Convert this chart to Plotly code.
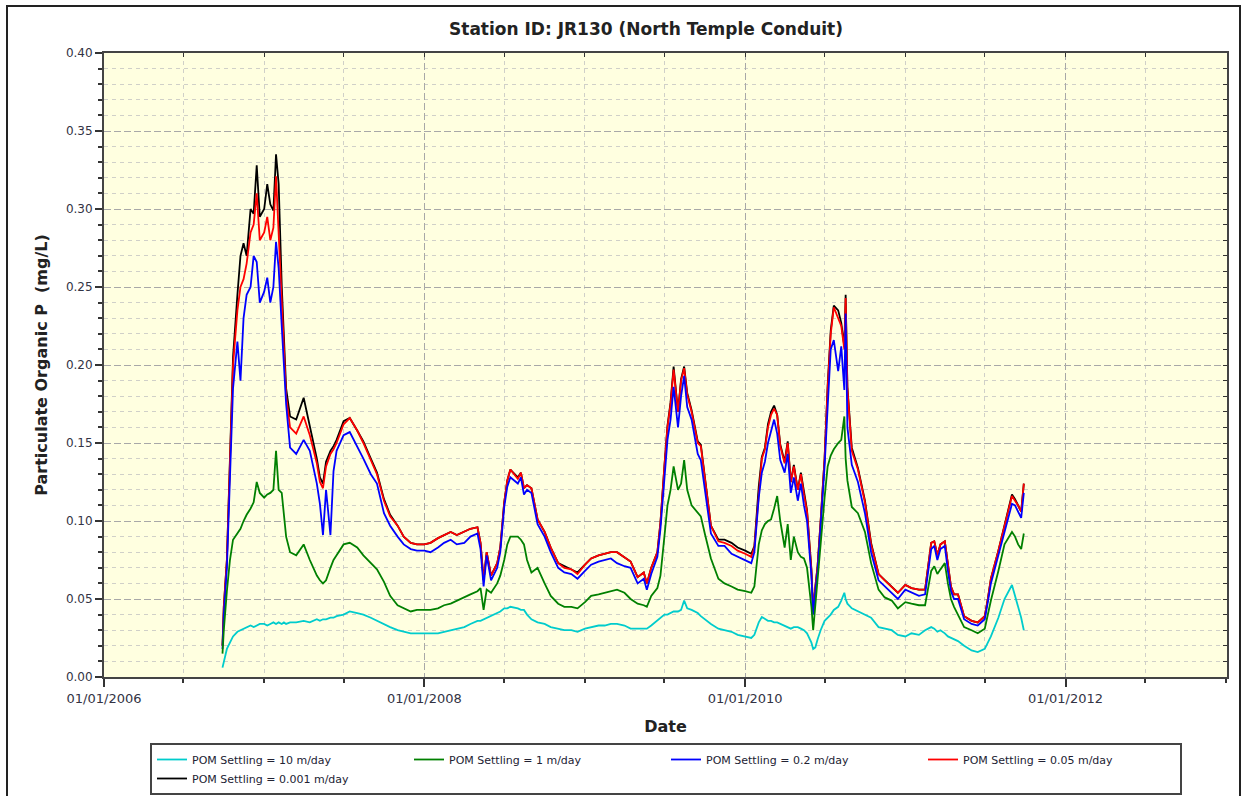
import plotly.graph_objects as go

dates = [
    "2006-09-28", "2006-10-01", "2006-10-08", "2006-10-15", "2006-10-22", "2006-11-01", "2006-11-08", "2006-11-15",
    "2006-11-22", "2006-12-01", "2006-12-08", "2006-12-15", "2006-12-22", "2007-01-01", "2007-01-08", "2007-01-15",
    "2007-01-22", "2007-01-28", "2007-02-03", "2007-02-10", "2007-02-15", "2007-02-20", "2007-03-01", "2007-03-15",
    "2007-04-01", "2007-04-15", "2007-05-01", "2007-05-08", "2007-05-15", "2007-05-22", "2007-06-01", "2007-06-08",
    "2007-06-15", "2007-07-01", "2007-07-15", "2007-08-01", "2007-08-15", "2007-09-01", "2007-09-15", "2007-10-01",
    "2007-10-15", "2007-11-01", "2007-11-15", "2007-12-01", "2007-12-15", "2008-01-01", "2008-01-15", "2008-02-01",
    "2008-02-15", "2008-03-01", "2008-03-15", "2008-04-01", "2008-04-15", "2008-05-01", "2008-05-08", "2008-05-15",
    "2008-05-22", "2008-06-01", "2008-06-15", "2008-06-22", "2008-07-01", "2008-07-08", "2008-07-15", "2008-08-01",
    "2008-08-08", "2008-08-15", "2008-08-22", "2008-09-01", "2008-09-15", "2008-10-01", "2008-10-15", "2008-11-01",
    "2008-11-15", "2008-12-01", "2008-12-15", "2009-01-01", "2009-01-15", "2009-02-01", "2009-02-15", "2009-03-01",
    "2009-03-15", "2009-04-01", "2009-04-15", "2009-05-01", "2009-05-15", "2009-05-22", "2009-06-01", "2009-06-15",
    "2009-06-22", "2009-07-01", "2009-07-08", "2009-07-15", "2009-07-22", "2009-08-01", "2009-08-08", "2009-08-15",
    "2009-08-22", "2009-09-01", "2009-09-15", "2009-09-22", "2009-10-01", "2009-10-15", "2009-11-01", "2009-11-15",
    "2009-12-01", "2009-12-15", "2010-01-01", "2010-01-15", "2010-01-22", "2010-02-01", "2010-02-08", "2010-02-15",
    "2010-02-22", "2010-03-01", "2010-03-08", "2010-03-15", "2010-03-22", "2010-04-01", "2010-04-08", "2010-04-15",
    "2010-04-22", "2010-05-01", "2010-05-08", "2010-05-15", "2010-05-22", "2010-06-01", "2010-06-05", "2010-06-10",
    "2010-06-15", "2010-06-22", "2010-07-01", "2010-07-08", "2010-07-15", "2010-07-22", "2010-08-01", "2010-08-08",
    "2010-08-15", "2010-08-18", "2010-08-22", "2010-09-01", "2010-09-15", "2010-10-01", "2010-10-15", "2010-11-01",
    "2010-11-15", "2010-12-01", "2010-12-15", "2011-01-01", "2011-01-15", "2011-02-01", "2011-02-15", "2011-03-01",
    "2011-03-08", "2011-03-15", "2011-03-22", "2011-04-01", "2011-04-08", "2011-04-15", "2011-04-22", "2011-05-01",
    "2011-05-15", "2011-06-01", "2011-06-15", "2011-07-01", "2011-07-08", "2011-07-15", "2011-08-01", "2011-08-15",
    "2011-09-01", "2011-09-08", "2011-09-15", "2011-09-22", "2011-09-28",
]

pom_10 = [
    0.006, 0.010, 0.018, 0.022, 0.026, 0.029, 0.030, 0.031, 0.032, 0.033, 0.032, 0.033, 0.034, 0.034, 0.033, 0.034,
    0.035, 0.034, 0.035, 0.034, 0.035, 0.034, 0.035, 0.035, 0.036, 0.035, 0.037, 0.036, 0.037, 0.037, 0.038, 0.038,
    0.039, 0.040, 0.042, 0.041, 0.040, 0.038, 0.036, 0.034, 0.032, 0.030, 0.029, 0.028, 0.028, 0.028, 0.028, 0.028,
    0.029, 0.030, 0.031, 0.032, 0.034, 0.036, 0.036, 0.037, 0.038, 0.039, 0.041, 0.042, 0.044, 0.044, 0.045, 0.044,
    0.043, 0.043, 0.040, 0.037, 0.035, 0.034, 0.032, 0.031, 0.030, 0.030, 0.029, 0.031, 0.032, 0.033, 0.033, 0.034,
    0.034, 0.033, 0.031, 0.031, 0.031, 0.031, 0.033, 0.036, 0.038, 0.040, 0.040, 0.041, 0.042, 0.042, 0.043, 0.049,
    0.044, 0.043, 0.041, 0.039, 0.037, 0.034, 0.031, 0.030, 0.029, 0.027, 0.026, 0.025, 0.027, 0.035, 0.0385, 0.037,
    0.036, 0.036, 0.035, 0.035, 0.034, 0.033, 0.032, 0.031, 0.032, 0.032, 0.031, 0.030, 0.028, 0.022, 0.018, 0.019,
    0.024, 0.030, 0.036, 0.038, 0.040, 0.043, 0.045, 0.049, 0.054, 0.050, 0.047, 0.044, 0.042, 0.040, 0.038, 0.032,
    0.031, 0.030, 0.027, 0.026, 0.028, 0.027, 0.030, 0.032, 0.031, 0.029, 0.030, 0.028, 0.026, 0.025, 0.024, 0.023,
    0.020, 0.017, 0.016, 0.018, 0.022, 0.026, 0.038, 0.050, 0.059, 0.052, 0.045, 0.038, 0.030,
]

pom_1 = [
    0.015, 0.030, 0.055, 0.075, 0.088, 0.092, 0.095, 0.100, 0.104, 0.108, 0.112, 0.125, 0.118, 0.115, 0.117, 0.118,
    0.120, 0.145, 0.120, 0.118, 0.105, 0.090, 0.080, 0.078, 0.085, 0.075, 0.065, 0.062, 0.060, 0.062, 0.070, 0.075,
    0.078, 0.085, 0.086, 0.083, 0.078, 0.073, 0.069, 0.061, 0.052, 0.046, 0.044, 0.042, 0.043, 0.043, 0.043, 0.044,
    0.046, 0.047, 0.049, 0.051, 0.053, 0.055, 0.057, 0.043, 0.056, 0.054, 0.060, 0.065, 0.075, 0.085, 0.090, 0.090,
    0.088, 0.085, 0.075, 0.067, 0.070, 0.060, 0.052, 0.047, 0.045, 0.045, 0.044, 0.048, 0.052, 0.053, 0.054, 0.055,
    0.056, 0.054, 0.050, 0.047, 0.046, 0.045, 0.052, 0.057, 0.065, 0.090, 0.110, 0.120, 0.135, 0.120, 0.124, 0.139,
    0.120, 0.110, 0.105, 0.103, 0.092, 0.076, 0.063, 0.060, 0.058, 0.056, 0.055, 0.054, 0.058, 0.085, 0.094, 0.098,
    0.100, 0.101, 0.108, 0.116, 0.100, 0.083, 0.098, 0.075, 0.090, 0.080, 0.077, 0.076, 0.070, 0.045, 0.030, 0.045,
    0.062, 0.085, 0.115, 0.135, 0.142, 0.146, 0.150, 0.152, 0.167, 0.140, 0.126, 0.109, 0.105, 0.093, 0.073, 0.056,
    0.051, 0.049, 0.044, 0.048, 0.047, 0.046, 0.046, 0.068, 0.071, 0.066, 0.069, 0.073, 0.060, 0.050, 0.045, 0.040,
    0.032, 0.030, 0.028, 0.031, 0.040, 0.049, 0.068, 0.085, 0.093, 0.090, 0.085, 0.082, 0.092,
]

pom_02 = [
    0.018, 0.040, 0.070, 0.130, 0.185, 0.215, 0.190, 0.230, 0.245, 0.250, 0.270, 0.266, 0.240, 0.247, 0.256, 0.240,
    0.250, 0.279, 0.262, 0.225, 0.200, 0.175, 0.147, 0.143, 0.152, 0.145, 0.124, 0.111, 0.091, 0.120, 0.091, 0.132,
    0.145, 0.155, 0.157, 0.148, 0.140, 0.130, 0.124, 0.105, 0.097, 0.090, 0.085, 0.082, 0.081, 0.081, 0.080, 0.083,
    0.086, 0.088, 0.085, 0.086, 0.090, 0.092, 0.082, 0.058, 0.078, 0.062, 0.070, 0.080, 0.109, 0.122, 0.128, 0.124,
    0.128, 0.117, 0.120, 0.118, 0.098, 0.090, 0.080, 0.070, 0.067, 0.066, 0.063, 0.068, 0.072, 0.074, 0.075, 0.076,
    0.073, 0.071, 0.070, 0.060, 0.063, 0.056, 0.066, 0.077, 0.095, 0.130, 0.152, 0.165, 0.186, 0.160, 0.180, 0.193,
    0.173, 0.165, 0.143, 0.139, 0.120, 0.092, 0.084, 0.084, 0.079, 0.077, 0.075, 0.073, 0.080, 0.115, 0.131, 0.138,
    0.150, 0.158, 0.165, 0.156, 0.139, 0.131, 0.143, 0.118, 0.128, 0.113, 0.124, 0.110, 0.100, 0.065, 0.040, 0.055,
    0.068, 0.097, 0.135, 0.173, 0.210, 0.216, 0.196, 0.212, 0.184, 0.233, 0.160, 0.136, 0.125, 0.105, 0.080, 0.062,
    0.058, 0.054, 0.050, 0.056, 0.054, 0.052, 0.053, 0.082, 0.084, 0.075, 0.082, 0.084, 0.068, 0.055, 0.050, 0.050,
    0.037, 0.034, 0.033, 0.037, 0.048, 0.060, 0.078, 0.093, 0.111, 0.110, 0.106, 0.102, 0.118,
]

pom_005 = [
    0.020, 0.045, 0.075, 0.140, 0.200, 0.235, 0.250, 0.255, 0.265, 0.285, 0.290, 0.310, 0.280, 0.285, 0.295, 0.280,
    0.288, 0.321, 0.284, 0.240, 0.210, 0.180, 0.160, 0.156, 0.167, 0.155, 0.137, 0.125, 0.121, 0.135, 0.143, 0.146,
    0.150, 0.162, 0.166, 0.158, 0.150, 0.139, 0.130, 0.113, 0.103, 0.097, 0.090, 0.086, 0.085, 0.085, 0.086, 0.089,
    0.091, 0.093, 0.091, 0.093, 0.095, 0.096, 0.086, 0.062, 0.080, 0.065, 0.073, 0.083, 0.112, 0.126, 0.133, 0.127,
    0.131, 0.121, 0.123, 0.121, 0.101, 0.093, 0.083, 0.073, 0.070, 0.069, 0.066, 0.072, 0.076, 0.078, 0.079, 0.080,
    0.080, 0.077, 0.074, 0.064, 0.067, 0.060, 0.070, 0.080, 0.099, 0.135, 0.160, 0.175, 0.197, 0.170, 0.190, 0.198,
    0.181, 0.170, 0.150, 0.148, 0.128, 0.097, 0.087, 0.086, 0.084, 0.081, 0.079, 0.077, 0.083, 0.120, 0.140, 0.146,
    0.160, 0.168, 0.172, 0.168, 0.148, 0.137, 0.150, 0.125, 0.135, 0.120, 0.130, 0.117, 0.106, 0.068, 0.042, 0.058,
    0.071, 0.100, 0.140, 0.185, 0.220, 0.237, 0.230, 0.225, 0.210, 0.243, 0.185, 0.145, 0.133, 0.112, 0.085, 0.066,
    0.062, 0.058, 0.054, 0.059, 0.057, 0.056, 0.056, 0.086, 0.087, 0.078, 0.085, 0.087, 0.071, 0.058, 0.053, 0.053,
    0.039, 0.036, 0.035, 0.039, 0.050, 0.063, 0.081, 0.097, 0.116, 0.113, 0.110, 0.106, 0.124,
]

pom_0001 = [
    0.020, 0.045, 0.075, 0.140, 0.205, 0.245, 0.270, 0.278, 0.270, 0.300, 0.297, 0.328, 0.295, 0.300, 0.316, 0.303,
    0.299, 0.335, 0.316, 0.251, 0.215, 0.185, 0.167, 0.165, 0.179, 0.160, 0.140, 0.128, 0.124, 0.138, 0.145, 0.148,
    0.152, 0.164, 0.166, 0.158, 0.151, 0.140, 0.131, 0.114, 0.104, 0.097, 0.090, 0.086, 0.085, 0.085, 0.086, 0.089,
    0.091, 0.093, 0.091, 0.093, 0.095, 0.096, 0.086, 0.062, 0.080, 0.065, 0.073, 0.083, 0.112, 0.126, 0.133, 0.128,
    0.131, 0.121, 0.123, 0.121, 0.101, 0.093, 0.083, 0.073, 0.071, 0.069, 0.067, 0.072, 0.076, 0.078, 0.079, 0.080,
    0.080, 0.077, 0.074, 0.064, 0.067, 0.060, 0.070, 0.080, 0.099, 0.135, 0.161, 0.176, 0.199, 0.170, 0.191, 0.199,
    0.182, 0.171, 0.151, 0.149, 0.129, 0.097, 0.088, 0.088, 0.086, 0.083, 0.081, 0.079, 0.084, 0.122, 0.141, 0.147,
    0.162, 0.170, 0.174, 0.168, 0.149, 0.138, 0.151, 0.125, 0.136, 0.120, 0.131, 0.118, 0.107, 0.069, 0.042, 0.058,
    0.071, 0.100, 0.140, 0.187, 0.222, 0.238, 0.235, 0.227, 0.212, 0.245, 0.186, 0.147, 0.134, 0.113, 0.086, 0.066,
    0.062, 0.058, 0.054, 0.059, 0.057, 0.056, 0.056, 0.086, 0.087, 0.078, 0.085, 0.087, 0.071, 0.058, 0.053, 0.053,
    0.039, 0.036, 0.035, 0.039, 0.050, 0.063, 0.081, 0.097, 0.117, 0.114, 0.110, 0.106, 0.124,
]

series_names = [
    "POM Settling = 10 m/day",
    "POM Settling = 1 m/day",
    "POM Settling = 0.2 m/day",
    "POM Settling = 0.05 m/day",
    "POM Settling = 0.001 m/day",
]
series_values = [pom_10, pom_1, pom_02, pom_005, pom_0001]
series_colors = ["#00CCCC", "#008000", "#0000FF", "#FF0000", "#000000"]

fig = go.Figure()
# draw black first so blue lies on top; legend order via legendrank
for idx in [4, 3, 2, 1, 0]:
    fig.add_trace(go.Scatter(
        x=dates, y=series_values[idx], mode="lines", name=series_names[idx],
        line=dict(color=series_colors[idx], width=1.8),
        legendrank=idx + 1,
    ))
# empty helper trace for the mirrored (inside-tick) axes
fig.add_trace(go.Scatter(x=[], y=[], xaxis="x2", yaxis="y2", showlegend=False, hoverinfo="skip"))

W, H = 1247, 796
L, R, T, B = 104, 1227, 53, 677
pw, ph = R - L, B - T
def px(x): return (x - L) / pw
def py(y): return (B - y) / ph

xrange = ["2006-01-01", "2013-01-03"]
label_color = "#333344"
title_font = dict(family="DejaVu Sans", size=16, color="#222222", weight="bold")

fig.update_layout(
    width=W, height=H,
    margin=dict(l=L, r=W - R, t=T, b=H - B, autoexpand=False),
    paper_bgcolor="white", plot_bgcolor="#FFFFE0",
    title=dict(text="Station ID: JR130 (North Temple Conduit)", x=px(646), xref="paper", xanchor="center",
               y=1 - 29 / H, yref="container", yanchor="middle",
               font=dict(family="DejaVu Sans", size=17, color="#222222", weight="bold")),
    xaxis=dict(
        type="date", range=xrange, tick0="2006-01-01", dtick="M24", tickformat="%m/%d/%Y",
        ticks="outside", ticklen=8, tickwidth=1.5, tickcolor="#333333",
        showline=True, linecolor="#444444", linewidth=2, mirror=True,
        showgrid=True, gridcolor="#A8A8A8", griddash="7px,3px", gridwidth=1,
        minor=dict(dtick="M6", tick0="2006-01-01", ticks="outside", ticklen=4, tickcolor="#333333",
                   showgrid=True, gridcolor="#D0D0C8", griddash="4px,4px", gridwidth=1),
        tickfont=dict(family="DejaVu Sans", size=13, color=label_color), zeroline=False,
        title=dict(text="Date", standoff=16, font=title_font),
    ),
    yaxis=dict(
        range=[0, 0.40], dtick=0.05, tick0=0, tickformat=".2f",
        ticks="outside", ticklen=7, tickwidth=1.5, tickcolor="#333333",
        showline=True, linecolor="#444444", linewidth=2, mirror=True,
        showgrid=True, gridcolor="#A8A8A8", griddash="7px,3px", gridwidth=1,
        minor=dict(dtick=0.01, ticks="outside", ticklen=4, tickcolor="#333333",
                   showgrid=True, gridcolor="#D0D0C8", griddash="4px,4px", gridwidth=1),
        tickfont=dict(family="DejaVu Sans", size=12, color=label_color), zeroline=False,
        title=dict(text="Particulate Organic P\u00a0 (mg/L)", standoff=14, font=title_font),
    ),
    xaxis2=dict(
        type="date", range=xrange, overlaying="x", side="top", anchor="y",
        tick0="2006-01-01", dtick="M6", ticks="inside", ticklen=4, tickcolor="#333333",
        showticklabels=False, showgrid=False, showline=False, zeroline=False,
    ),
    yaxis2=dict(
        range=[0, 0.40], overlaying="y", side="right", anchor="x",
        tick0=0, dtick=0.01, ticks="inside", ticklen=4, tickcolor="#333333",
        showticklabels=False, showgrid=False, showline=False, zeroline=False,
    ),
    legend=dict(
        orientation="h", x=px(150), xanchor="left", y=py(743), yanchor="top",
        entrywidth=212, entrywidthmode="pixels",
        bgcolor="white", bordercolor="#444444", borderwidth=2,
        font=dict(family="DejaVu Sans", size=11, color="#222233"),
        itemwidth=30, tracegroupgap=0,
    ),
    shapes=[dict(type="rect", xref="paper", yref="paper",
                 x0=px(7), x1=px(1240), y0=py(806), y1=py(6),
                 line=dict(color="#222222", width=2), fillcolor="rgba(0,0,0,0)", layer="below")],
    showlegend=True,
)

fig.write_html("out.html", config={"displayModeBar": False},
               post_script="document.body.style.margin='0';")
